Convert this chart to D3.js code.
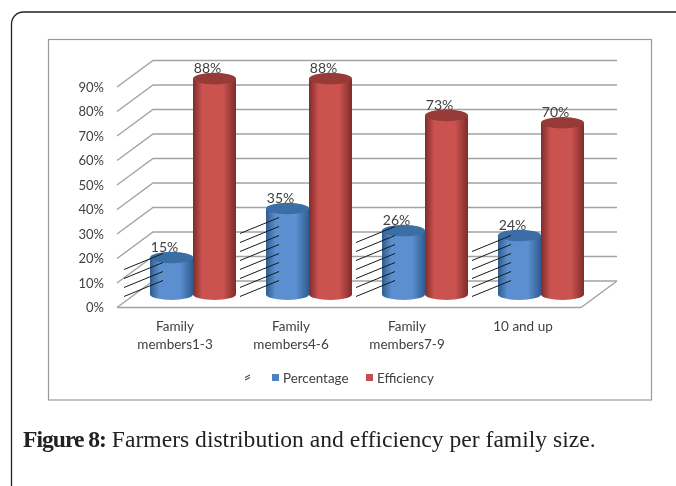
<!DOCTYPE html>
<html>
<head>
<meta charset="utf-8">
<script src="https://cdn.jsdelivr.net/npm/d3@7"></script>
<style>
  html, body { margin: 0; padding: 0; background: #fff; }
  svg { display: block; }
</style>
</head>
<body>
<div class="chart"></div>
<script>
const categories = ['Family members1-3', 'Family members4-6', 'Family members7-9', '10 and up']
const percentage = [15, 35, 26, 24]
const efficiency = [88, 88, 73, 70]
const yTicks = [0, 10, 20, 30, 40, 50, 60, 70, 80, 90]
const hatchCounts = [4, 8, 7, 6]
const seriesNames = ['Percentage', 'Efficiency']
const CAPTION_BOLD = 'Figure 8:'
const CAPTION_TEXT = ' Farmers distribution and efficiency per family size.'

const BLUE = ['#2f5c8f', '#5b8fcf', '#2f5c8f']
const RED = ['#7f2c2a', '#cb5350', '#7f2c2a']
const GRID = '#a3a3a3'
const TEXT = '#404040'

const width = 676
const height = 486
const depth = { x: 36, y: -26.5 }
const mid = { x: depth.x / 2, y: depth.y / 2 }

const svg = d3.select('.chart').append('svg')
  .attr('width', width)
  .attr('height', height)

const defs = svg.append('defs')
const addGradient = (id, stops) => {
  const g = defs.append('linearGradient').attr('id', id)
  g.append('stop').attr('offset', '0%').attr('stop-color', stops[0])
  g.append('stop').attr('offset', '22%').attr('stop-color', stops[1])
  g.append('stop').attr('offset', '70%').attr('stop-color', stops[1])
  g.append('stop').attr('offset', '100%').attr('stop-color', stops[2])
}
addGradient('blue-side', BLUE)
addGradient('red-side', RED)
defs.append('filter').attr('id', 'soft')
  .append('feGaussianBlur').attr('stdDeviation', 0.45)
defs.append('filter').attr('id', 'soft-text')
  .append('feGaussianBlur').attr('stdDeviation', 0.3)

// outer frame, open on the right, runs off the bottom of the page
svg.append('path')
  .attr('d', `M11.5,${height + 5}V24a12,12 0 0 1 12,-12H${width + 5}`)
  .attr('fill', 'none')
  .attr('stroke', '#222')
  .attr('stroke-width', 1.3)

// chart box
svg.append('rect')
  .attr('x', 48.5)
  .attr('y', 39.5)
  .attr('width', 603)
  .attr('height', 360.5)
  .attr('fill', '#fff')
  .attr('stroke', '#9a9a9a')
  .attr('stroke-width', 1.2)

const x = d3.scaleBand().domain(categories).range([117, 581])
const y = d3.scaleLinear().domain([0, 90]).range([307.5, 87])
const series = d3.scaleBand().domain(seriesNames).range([-43, 43])

const plot = svg.append('g').attr('filter', 'url(#soft)')

// walls and floor
const walls = plot.append('g')
  .attr('fill', 'none')
  .attr('stroke', GRID)
  .attr('stroke-width', 1.4)
walls.selectAll('path.grid')
  .data(yTicks)
  .join('path')
  .attr('class', 'grid')
  .attr('d', d => `M${x.range()[0]},${y(d)}L${x.range()[0] + depth.x},${y(d) + depth.y}H${x.range()[1] + depth.x}`)
walls.append('path')
  .attr('d', `M${x.range()[0]},${y(0)}H${x.range()[1]}L${x.range()[1] + depth.x},${y(0) + depth.y}`)

// cylinders
const cylinder = (group, cx, value, fill, top) => {
  const rx = series.bandwidth() / 2
  const ry = 5.8
  const base = y(0) + mid.y
  const yTop = y(value) + mid.y
  group.append('path')
    .attr('d', `M${cx - rx},${yTop}V${base}A${rx},${ry} 0 0 0 ${cx + rx},${base}V${yTop}Z`)
    .attr('fill', `url(#${fill})`)
  group.append('ellipse')
    .attr('cx', cx)
    .attr('cy', yTop)
    .attr('rx', rx)
    .attr('ry', ry)
    .attr('fill', top)
}

const labels = svg.append('g')
  .attr('filter', 'url(#soft-text)')
  .attr('font-family', 'Lato, sans-serif')
  .attr('font-size', 14)
  .attr('fill', TEXT)
  .attr('text-anchor', 'middle')

const addLabel = (cx, value) => {
  labels.append('text')
    .attr('x', cx - 7)
    .attr('y', y(value) + mid.y - 5.5)
    .text(value + '%')
}

categories.forEach((c, i) => {
  const center = x(c) + x.bandwidth() / 2 + mid.x
  const blueX = center + series('Percentage') + series.bandwidth() / 2
  const redX = center + series('Efficiency') + series.bandwidth() / 2
  cylinder(plot, blueX, percentage[i], 'blue-side', '#3b6ea5')
  cylinder(plot, redX, efficiency[i], 'red-side', '#963a38')
  addLabel(blueX, percentage[i])
  addLabel(redX, efficiency[i])

  // stray black hatching over the blue bars
  const left = blueX - series.bandwidth() / 2
  plot.append('g')
    .attr('stroke', '#1a1a1a')
    .attr('stroke-width', 1)
    .selectAll('line')
    .data(d3.range(hatchCounts[i]))
    .join('line')
    .attr('x1', left - 26)
    .attr('x2', left + 13)
    .attr('y1', d => y(0) - 11 - d * 9)
    .attr('y2', d => y(0) - 27 - d * 9)
})

// axes
const yAxis = svg.append('g')
  .attr('filter', 'url(#soft-text)')
  .attr('transform', `translate(${x.range()[0]},0)`)
  .call(d3.axisLeft(y).tickValues(yTicks).tickSize(0).tickPadding(13).tickFormat(d => d + '%'))
yAxis.select('.domain').remove()
yAxis.selectAll('text')
  .attr('font-family', 'Lato, sans-serif')
  .attr('font-size', 13)
  .attr('fill', TEXT)

const xAxis = svg.append('g')
  .attr('filter', 'url(#soft-text)')
  .attr('transform', `translate(0,${y(0)})`)
  .call(d3.axisBottom(x).tickSize(0).tickFormat(d => d))
xAxis.select('.domain').remove()
xAxis.selectAll('.tick text')
  .attr('font-family', 'Lato, sans-serif')
  .attr('font-size', 13.5)
  .attr('fill', TEXT)
  .attr('y', 0)
  .attr('dy', 0)
  .each(function (d) {
    const lines = d.startsWith('Family') ? ['Family', d.slice(7)] : [d]
    d3.select(this).text(null).selectAll('tspan')
      .data(lines)
      .join('tspan')
      .attr('x', 0)
      .attr('y', (l, i) => 23 + i * 18)
      .text(l => l)
  })

// legend
const legend = svg.append('g')
  .attr('filter', 'url(#soft-text)')
  .attr('font-family', 'Lato, sans-serif')
  .attr('font-size', 13.4)
  .attr('fill', TEXT)
legend.append('path')
  .attr('d', 'M245,377.5L250,375M245,380L250,377.5')
  .attr('stroke', '#222')
  .attr('fill', 'none')
const legendX = d3.scaleOrdinal().domain(seriesNames).range([272, 366])
const legendColor = d3.scaleOrdinal().domain(seriesNames).range(['#4f81bd', '#c0504d'])
seriesNames.forEach(name => {
  legend.append('rect')
    .attr('x', legendX(name))
    .attr('y', 374)
    .attr('width', 7)
    .attr('height', 7)
    .attr('fill', legendColor(name))
  legend.append('text')
    .attr('x', legendX(name) + 11)
    .attr('y', 383)
    .text(name)
})

// caption
const caption = svg.append('text')
  .attr('filter', 'url(#soft-text)')
  .attr('x', 23)
  .attr('y', 447)
  .attr('font-family', '"Liberation Serif", serif')
  .attr('font-size', 23.6)
  .attr('fill', '#222')
caption.append('tspan')
  .attr('font-weight', 'bold')
  .attr('letter-spacing', -1)
  .text(CAPTION_BOLD)
caption.append('tspan').text(CAPTION_TEXT)
</script>
</body>
</html>
